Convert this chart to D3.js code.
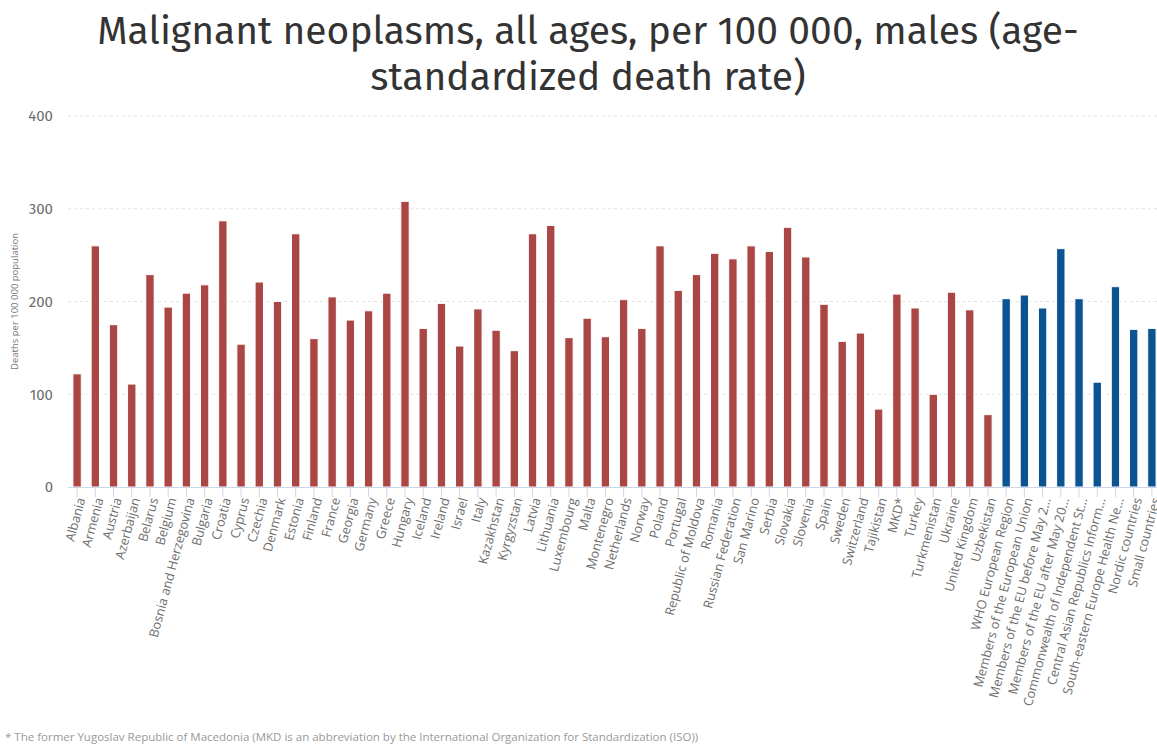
<!DOCTYPE html>
<html><head><meta charset="utf-8">
<script src="https://cdn.jsdelivr.net/npm/d3@7/dist/d3.min.js"></script>
<style>
html,body{margin:0;padding:0;background:#fff;overflow:hidden;}
svg{display:block;font-family:"Open Sans",sans-serif;}
</style></head>
<body>
<svg id="chart" width="1157" height="747"></svg>
<script>
const countries = ["Albania","Armenia","Austria","Azerbaijan","Belarus","Belgium","Bosnia and Herzegovina","Bulgaria","Croatia","Cyprus","Czechia","Denmark","Estonia","Finland","France","Georgia","Germany","Greece","Hungary","Iceland","Ireland","Israel","Italy","Kazakhstan","Kyrgyzstan","Latvia","Lithuania","Luxembourg","Malta","Montenegro","Netherlands","Norway","Poland","Portugal","Republic of Moldova","Romania","Russian Federation","San Marino","Serbia","Slovakia","Slovenia","Spain","Sweden","Switzerland","Tajikistan","MKD*","Turkey","Turkmenistan","Ukraine","United Kingdom","Uzbekistan"];
const countryValues = [122,260,175,111,229,194,209,218,287,154,221,200,273,160,205,180,190,209,308,171,198,152,192,169,147,273,282,161,182,162,202,171,260,212,229,252,246,260,254,280,248,197,157,166,84,208,193,100,210,191,78];
const groups = ["WHO European Region","Members of the European Union","Members of the EU before May 2…","Members of the EU after May 20…","Commonwealth of Independent St…","Central Asian Republics Inform…","South-eastern Europe Health Ne…","Nordic countries","Small countries"];
const groupValues = [203,207,193,257,203,113,216,170,171];
const yTicks = [0,100,200,300,400];
const title1 = "Malignant neoplasms, all ages, per 100 000, males (age-";
const title2 = "standardized death rate)";
const yTitle = "Deaths per 100 000 population";
const footnote = "* The former Yugoslav Republic of Macedonia (MKD is an abbreviation by the International Organization for Standardization (ISO))";

(function(){
const data = countries.map((c,i)=>({name:c,value:countryValues[i],group:false}))
  .concat(groups.map((g,i)=>({name:g,value:groupValues[i],group:true})));

const svg = d3.select("#chart");
const pL = 68, pR = 1161, pT = 116, pB = 487;
const titleFont = "'Fira Sans','Noto Sans',sans-serif";

const x = d3.scaleBand().domain(data.map(d=>d.name)).range([pL,pR]).paddingInner(0.54).paddingOuter(0.27);
const y = d3.scaleLinear().domain([0,400]).range([pB,pT]);

// title
svg.append("text").attr("x",588).attr("y",44).attr("text-anchor","middle")
  .attr("font-family",titleFont).attr("font-size",39).attr("fill","#333").text(title1);
svg.append("text").attr("x",588).attr("y",90).attr("text-anchor","middle")
  .attr("font-family",titleFont).attr("font-size",39).attr("fill","#333").text(title2);

// grid
svg.append("g").selectAll("line").data(yTicks.filter(t=>t>0)).join("line")
  .attr("x1",pL).attr("x2",1157).attr("y1",d=>y(d)).attr("y2",d=>y(d))
  .attr("stroke","#e3e3e3").attr("stroke-dasharray","3,3").attr("stroke-width",1);

// y axis labels
const ya = svg.append("g").attr("transform",`translate(${pL},0)`)
  .call(d3.axisLeft(y).tickValues(yTicks).tickSize(0).tickPadding(15));
ya.select(".domain").remove();
ya.selectAll("text").attr("font-family",titleFont).attr("font-size",15).attr("fill","#6e6e6e");

svg.append("text").attr("transform",`translate(18,${(pT+pB)/2}) rotate(-90)`)
  .attr("text-anchor","middle").attr("font-family","'Open Sans',sans-serif")
  .attr("font-size",9.5).attr("fill","#777").text(yTitle);

// bars
svg.append("g").selectAll("rect").data(data).join("rect")
  .attr("x",d=>x(d.name)).attr("width",x.bandwidth())
  .attr("y",d=>y(d.value)).attr("height",d=>y(0)-y(d.value))
  .attr("fill",d=>d.group?"#0b5391":"#aa4643")
  .attr("stroke","#fff").attr("stroke-width",1);

// x axis
const xa = svg.append("g").attr("transform",`translate(0,${pB})`)
  .call(d3.axisBottom(x).tickSize(10).tickPadding(4));
xa.select(".domain").attr("stroke","#ccd6eb").attr("d",`M${pL},0.5H1157`);
xa.selectAll(".tick line").attr("stroke","#ccd6eb");
xa.selectAll(".tick text").attr("font-family","'Open Sans',sans-serif").attr("font-size",12.8).attr("fill","#6e6e6e")
  .attr("text-anchor","end").attr("dy","0.35em")
  .attr("transform","translate(4,11) rotate(-75)").attr("x",0).attr("y",0);

// footnote
svg.append("text").attr("x",5).attr("y",741).attr("font-family","'Open Sans',sans-serif")
  .attr("font-size",11.5).attr("fill","#999").text(footnote);
})();
</script>
</body></html>
